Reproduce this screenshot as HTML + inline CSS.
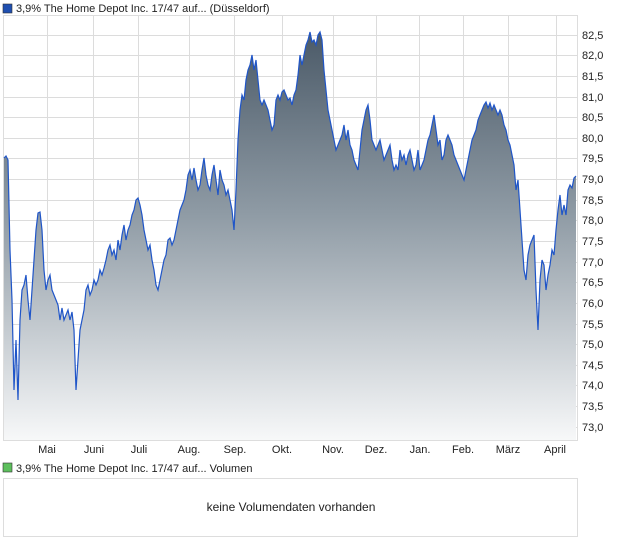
<!DOCTYPE html>
<html><head><meta charset="utf-8"><style>
body{margin:0;background:#fff;width:620px;height:546px;overflow:hidden;font-family:"Liberation Sans",sans-serif;}
</style></head><body>
<svg width="620" height="546" xmlns="http://www.w3.org/2000/svg" font-family="Liberation Sans, sans-serif">
<defs>
<linearGradient id="g" gradientUnits="userSpaceOnUse" x1="0" y1="30" x2="0" y2="440">
<stop offset="0" stop-color="#4a5967"/><stop offset="0.45" stop-color="#8f9ba5"/><stop offset="1" stop-color="#f7f8f9"/>
</linearGradient>
</defs>
<rect x="3" y="4" width="9" height="9" fill="#1f4fb0" stroke="#333" stroke-width="0.6"/>
<text x="16" y="12" font-size="11" fill="#222">3,9% The Home Depot Inc. 17/47 auf... (Düsseldorf)</text>
<rect x="3.5" y="15.5" width="574" height="425" fill="#fff" stroke="#ddd"/>
<g stroke="#dcdcdc" stroke-width="1">
<line x1="47.5" y1="16" x2="47.5" y2="440"/><line x1="93.5" y1="16" x2="93.5" y2="440"/><line x1="138.5" y1="16" x2="138.5" y2="440"/><line x1="189.5" y1="16" x2="189.5" y2="440"/><line x1="234.5" y1="16" x2="234.5" y2="440"/><line x1="282.5" y1="16" x2="282.5" y2="440"/><line x1="333.5" y1="16" x2="333.5" y2="440"/><line x1="376.5" y1="16" x2="376.5" y2="440"/><line x1="419.5" y1="16" x2="419.5" y2="440"/><line x1="463.5" y1="16" x2="463.5" y2="440"/><line x1="508.5" y1="16" x2="508.5" y2="440"/><line x1="556.5" y1="16" x2="556.5" y2="440"/>
<line x1="4" y1="35.5" x2="577" y2="35.5"/><line x1="4" y1="55.5" x2="577" y2="55.5"/><line x1="4" y1="76.5" x2="577" y2="76.5"/><line x1="4" y1="97.5" x2="577" y2="97.5"/><line x1="4" y1="117.5" x2="577" y2="117.5"/><line x1="4" y1="138.5" x2="577" y2="138.5"/><line x1="4" y1="158.5" x2="577" y2="158.5"/><line x1="4" y1="179.5" x2="577" y2="179.5"/><line x1="4" y1="200.5" x2="577" y2="200.5"/><line x1="4" y1="220.5" x2="577" y2="220.5"/><line x1="4" y1="241.5" x2="577" y2="241.5"/><line x1="4" y1="262.5" x2="577" y2="262.5"/><line x1="4" y1="282.5" x2="577" y2="282.5"/><line x1="4" y1="303.5" x2="577" y2="303.5"/><line x1="4" y1="324.5" x2="577" y2="324.5"/><line x1="4" y1="344.5" x2="577" y2="344.5"/><line x1="4" y1="365.5" x2="577" y2="365.5"/><line x1="4" y1="385.5" x2="577" y2="385.5"/><line x1="4" y1="406.5" x2="577" y2="406.5"/><line x1="4" y1="427.5" x2="577" y2="427.5"/>
</g>
<path id="d" fill="url(#g)" stroke="none" d="M4,440 L4,158 6,156 8,160 10,250 12,300 14,390 16,340 18,400 20,320 22,290 24,285 26,275 28,300 30,320 32,290 34,260 36,230 38,213 40,212 42,230 44,270 46,290 48,280 50,275 52,290 54,295 56,300 58,305 60,320 62,308 64,320 66,315 68,310 70,320 72,312 74,330 76,390 78,360 80,330 82,320 84,310 86,290 88,285 90,295 92,290 94,280 96,285 98,280 100,270 102,275 104,268 106,260 108,250 110,245 112,255 114,250 116,260 118,240 120,250 122,235 124,225 126,240 128,230 130,225 132,215 134,210 136,200 138,198 140,205 142,215 144,230 146,240 148,250 150,245 152,260 154,270 156,285 158,290 160,280 162,270 164,260 166,255 168,240 170,238 172,245 174,240 176,230 178,220 180,210 182,205 184,200 186,190 188,175 190,170 192,180 194,168 196,180 198,190 200,185 202,170 204,158 206,175 208,185 210,190 212,175 214,165 216,180 218,195 220,170 222,180 224,185 226,195 228,190 230,200 232,210 234,230 236,190 238,140 240,110 242,95 244,100 246,80 248,70 250,65 252,55 254,70 256,60 258,80 260,100 262,105 264,100 266,105 268,110 270,120 272,130 274,125 276,100 278,95 280,100 282,92 284,90 286,95 288,100 290,98 292,105 294,95 296,90 298,75 300,55 302,65 304,55 306,45 308,40 310,32 312,42 314,40 316,45 318,35 320,32 322,40 324,70 326,90 328,110 330,120 332,130 334,140 336,150 338,145 340,140 342,135 344,125 346,140 348,130 350,145 352,150 354,160 356,165 358,170 360,150 362,130 364,120 366,110 368,105 370,120 372,140 374,145 376,150 378,145 380,140 382,150 384,160 386,155 388,150 390,145 392,160 394,170 396,165 398,170 400,150 402,160 404,155 406,165 408,155 410,150 412,160 414,170 416,165 418,150 420,170 422,165 424,160 426,150 428,140 430,135 432,125 434,115 436,130 438,145 440,140 442,160 444,155 446,140 448,135 450,140 452,145 454,155 456,160 458,165 460,170 462,175 464,180 466,170 468,160 470,150 472,140 474,135 476,130 478,120 480,115 482,110 484,105 486,102 488,108 490,103 492,110 494,105 496,110 498,115 500,110 502,115 504,125 506,130 508,140 510,145 512,155 514,165 516,190 518,180 520,210 522,240 524,270 526,280 528,255 530,245 532,240 534,235 536,290 538,330 540,280 542,260 544,265 546,290 548,275 550,265 552,250 554,255 556,230 558,210 560,195 562,215 564,205 566,215 568,190 570,185 572,188 574,178 576,176 L576,440 Z"/>
<path fill="none" stroke="#1f55c8" stroke-width="1.2" d="M4,158 6,156 8,160 10,250 12,300 14,390 16,340 18,400 20,320 22,290 24,285 26,275 28,300 30,320 32,290 34,260 36,230 38,213 40,212 42,230 44,270 46,290 48,280 50,275 52,290 54,295 56,300 58,305 60,320 62,308 64,320 66,315 68,310 70,320 72,312 74,330 76,390 78,360 80,330 82,320 84,310 86,290 88,285 90,295 92,290 94,280 96,285 98,280 100,270 102,275 104,268 106,260 108,250 110,245 112,255 114,250 116,260 118,240 120,250 122,235 124,225 126,240 128,230 130,225 132,215 134,210 136,200 138,198 140,205 142,215 144,230 146,240 148,250 150,245 152,260 154,270 156,285 158,290 160,280 162,270 164,260 166,255 168,240 170,238 172,245 174,240 176,230 178,220 180,210 182,205 184,200 186,190 188,175 190,170 192,180 194,168 196,180 198,190 200,185 202,170 204,158 206,175 208,185 210,190 212,175 214,165 216,180 218,195 220,170 222,180 224,185 226,195 228,190 230,200 232,210 234,230 236,190 238,140 240,110 242,95 244,100 246,80 248,70 250,65 252,55 254,70 256,60 258,80 260,100 262,105 264,100 266,105 268,110 270,120 272,130 274,125 276,100 278,95 280,100 282,92 284,90 286,95 288,100 290,98 292,105 294,95 296,90 298,75 300,55 302,65 304,55 306,45 308,40 310,32 312,42 314,40 316,45 318,35 320,32 322,40 324,70 326,90 328,110 330,120 332,130 334,140 336,150 338,145 340,140 342,135 344,125 346,140 348,130 350,145 352,150 354,160 356,165 358,170 360,150 362,130 364,120 366,110 368,105 370,120 372,140 374,145 376,150 378,145 380,140 382,150 384,160 386,155 388,150 390,145 392,160 394,170 396,165 398,170 400,150 402,160 404,155 406,165 408,155 410,150 412,160 414,170 416,165 418,150 420,170 422,165 424,160 426,150 428,140 430,135 432,125 434,115 436,130 438,145 440,140 442,160 444,155 446,140 448,135 450,140 452,145 454,155 456,160 458,165 460,170 462,175 464,180 466,170 468,160 470,150 472,140 474,135 476,130 478,120 480,115 482,110 484,105 486,102 488,108 490,103 492,110 494,105 496,110 498,115 500,110 502,115 504,125 506,130 508,140 510,145 512,155 514,165 516,190 518,180 520,210 522,240 524,270 526,280 528,255 530,245 532,240 534,235 536,290 538,330 540,280 542,260 544,265 546,290 548,275 550,265 552,250 554,255 556,230 558,210 560,195 562,215 564,205 566,215 568,190 570,185 572,188 574,178 576,176"/>
<g font-size="11" fill="#222">
<text x="582" y="39">82,5</text><text x="582" y="59">82,0</text><text x="582" y="80">81,5</text><text x="582" y="101">81,0</text><text x="582" y="121">80,5</text><text x="582" y="142">80,0</text><text x="582" y="162">79,5</text><text x="582" y="183">79,0</text><text x="582" y="204">78,5</text><text x="582" y="224">78,0</text><text x="582" y="245">77,5</text><text x="582" y="266">77,0</text><text x="582" y="286">76,5</text><text x="582" y="307">76,0</text><text x="582" y="328">75,5</text><text x="582" y="348">75,0</text><text x="582" y="369">74,5</text><text x="582" y="389">74,0</text><text x="582" y="410">73,5</text><text x="582" y="431">73,0</text>
</g>
<g font-size="11" fill="#222" text-anchor="middle">
<text x="47" y="453">Mai</text><text x="94" y="453">Juni</text><text x="139" y="453">Juli</text><text x="189" y="453">Aug.</text><text x="235" y="453">Sep.</text><text x="282" y="453">Okt.</text><text x="333" y="453">Nov.</text><text x="376" y="453">Dez.</text><text x="420" y="453">Jan.</text><text x="463" y="453">Feb.</text><text x="508" y="453">März</text><text x="555" y="453">April</text>
</g>
<rect x="3" y="463" width="9" height="9" fill="#5cbf5c" stroke="#333" stroke-width="0.6"/>
<text x="16" y="472" font-size="11" fill="#222">3,9% The Home Depot Inc. 17/47 auf... Volumen</text>
<rect x="3.5" y="478.5" width="574" height="58" fill="#fff" stroke="#ddd"/>
<text x="291" y="511" font-size="12" fill="#222" text-anchor="middle">keine Volumendaten vorhanden</text>
</svg>
</body></html>
